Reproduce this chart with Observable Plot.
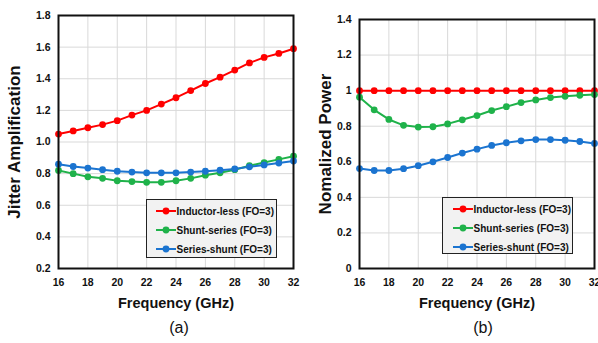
<!DOCTYPE html>
<html>
<head>
<meta charset="utf-8">
<script src="https://cdn.jsdelivr.net/npm/d3@7"></script>
<script src="https://cdn.jsdelivr.net/npm/@observablehq/plot@0.6"></script>
<style>
  html, body { margin: 0; padding: 0; background: #fff; }
  #wrap { position: relative; width: 598px; height: 343px; overflow: hidden; font-family: "Liberation Sans", Arial, sans-serif; }
  .panel { position: absolute; top: 0; }
  .legend { position: absolute; border: 1.5px solid #222; background: #f2f2f2; box-sizing: border-box; }
  .legend .row { position: absolute; left: 0; height: 14px; display: flex; align-items: center; font-size: 10px; font-weight: bold; color: #111; white-space: nowrap; }
  .legend svg { display: block; }
</style>
</head>
<body>
<div id="wrap"></div>
<script>
// ---- data ----
const freq = [16, 17, 18, 19, 20, 21, 22, 23, 24, 25, 26, 27, 28, 29, 30, 31, 32];
const seriesNames = ["Inductor-less (FO=3)", "Shunt-series (FO=3)", "Series-shunt (FO=3)"];
const seriesColors = ["#ff0000", "#1fb24a", "#1b74d0"];

// (a) Jitter Amplification
const jitterInductorLess = [1.05, 1.07, 1.09, 1.11, 1.135, 1.17, 1.20, 1.24, 1.28, 1.325, 1.37, 1.41, 1.455, 1.50, 1.535, 1.56, 1.59];
const jitterShuntSeries  = [0.82, 0.80, 0.78, 0.77, 0.755, 0.75, 0.745, 0.745, 0.755, 0.77, 0.79, 0.805, 0.825, 0.85, 0.87, 0.89, 0.91];
const jitterSeriesShunt  = [0.86, 0.845, 0.835, 0.825, 0.815, 0.81, 0.805, 0.805, 0.805, 0.81, 0.815, 0.822, 0.83, 0.843, 0.855, 0.867, 0.88];

// (b) Nomalized Power
const powerInductorLess = [1, 1, 1, 1, 1, 1, 1, 1, 1, 1, 1, 1, 1, 1, 1, 1, 1];
const powerShuntSeries  = [0.963, 0.892, 0.838, 0.805, 0.795, 0.797, 0.813, 0.836, 0.86, 0.888, 0.91, 0.933, 0.948, 0.961, 0.968, 0.974, 0.978];
const powerSeriesShunt  = [0.562, 0.551, 0.551, 0.561, 0.578, 0.6, 0.624, 0.649, 0.671, 0.692, 0.707, 0.718, 0.725, 0.725, 0.721, 0.714, 0.703];

// ticks
const xTicks = [16, 18, 20, 22, 24, 26, 28, 30, 32];
const yTicksA = [0.2, 0.4, 0.6, 0.8, 1.0, 1.2, 1.4, 1.6, 1.8];
const yTicksB = [0, 0.2, 0.4, 0.6, 0.8, 1, 1.2, 1.4];

const tidy = (arrs) => arrs.flatMap((arr, s) => arr.map((v, i) => ({f: freq[i], v, series: seriesNames[s]})));

function panel({data, yDomain, yTicks, yFmt, yLabel, yLabelDx, caption, captionDx, width, marginLeft, marginRight, marginTop}) {
  const font = "Liberation Sans, Arial, sans-serif";
  return Plot.plot({
    width, height: 343,
    marginLeft, marginRight, marginTop, marginBottom: 75,
    style: {fontFamily: font, fontSize: "10px", color: "#111", background: "transparent", overflow: "visible"},
    x: {domain: [16, 32]},
    y: {domain: yDomain},
    color: {domain: seriesNames, range: seriesColors},
    marks: [
      Plot.gridX(xTicks, {stroke: "#d9d9d9", strokeOpacity: 1}),
      Plot.gridY(yTicks, {stroke: "#d9d9d9", strokeOpacity: 1}),
      Plot.axisX(xTicks, {tickSize: 0, tickPadding: 10, label: null, fontWeight: "bold", fontSize: 10.5, tickFormat: d => String(d)}),
      Plot.axisY(yTicks, {tickSize: 0, tickPadding: 8, label: null, fontWeight: "bold", fontSize: 10.5, tickFormat: yFmt}),
      Plot.line(data, {x: "f", y: "v", stroke: "series", strokeWidth: 2}),
      Plot.dot(data, {x: "f", y: "v", fill: "series", r: 3.4}),
      Plot.frame({stroke: "#111", strokeWidth: 2}),
      Plot.text([yLabel], {text: d => d, frameAnchor: "left", textAnchor: "middle", dx: yLabelDx, rotate: -90, fontSize: 17, fontWeight: "bold", fill: "#111"}),
      Plot.text(["Frequency (GHz)"], {text: d => d, frameAnchor: "bottom", dy: 39, fontSize: 14.5, fontWeight: "bold", fill: "#111"}),
      Plot.text([caption], {text: d => d, frameAnchor: "bottom", dy: 64, dx: captionDx, fontSize: 16, fill: "#111"})
    ]
  });
}

const wrap = document.getElementById("wrap");

const pa = panel({
  data: tidy([jitterInductorLess, jitterShuntSeries, jitterSeriesShunt]),
  yDomain: [0.2, 1.8], yTicks: yTicksA, yFmt: d => d.toFixed(1),
  yLabel: "Jitter Amplification", yLabelDx: -44, caption: "(a)", captionDx: 3,
  width: 300, marginLeft: 58, marginRight: 7, marginTop: 15
});
const pb = panel({
  data: tidy([powerInductorLess, powerShuntSeries, powerSeriesShunt]),
  yDomain: [0, 1.4], yTicks: yTicksB, yFmt: d => String(d),
  yLabel: "Nomalized Power", yLabelDx: -34, caption: "(b)", captionDx: 6,
  width: 298, marginLeft: 59, marginRight: 4, marginTop: 19
});

function addPanel(svg, left) {
  const d = document.createElement("div");
  d.className = "panel";
  d.style.left = left + "px";
  d.appendChild(svg);
  wrap.appendChild(d);
}
addPanel(pa, 0);
addPanel(pb, 300);

function legend(box, rowsY, sampleX0) {
  const lg = document.createElement("div");
  lg.className = "legend";
  lg.style.left = box.x + "px"; lg.style.top = box.y + "px";
  lg.style.width = box.w + "px"; lg.style.height = box.h + "px";
  seriesNames.forEach((name, i) => {
    const row = document.createElement("div");
    row.className = "row";
    row.style.top = (rowsY[i] - box.y - 7) + "px";
    row.style.left = (sampleX0 - box.x - 1.5) + "px";
    const c = seriesColors[i];
    row.innerHTML = `<svg width="20" height="14"><line x1="0" x2="20" y1="7" y2="7" stroke="${c}" stroke-width="2"/><circle cx="10" cy="7" r="3.4" fill="${c}"/></svg><span style="margin-left:1px">${name}</span>`;
    lg.appendChild(row);
  });
  wrap.appendChild(lg);
}
legend({x: 146, y: 199, w: 131, h: 59}, [210, 229, 248], 156);
legend({x: 442, y: 197, w: 131, h: 57}, [208, 227, 246], 453);
</script>
</body>
</html>
